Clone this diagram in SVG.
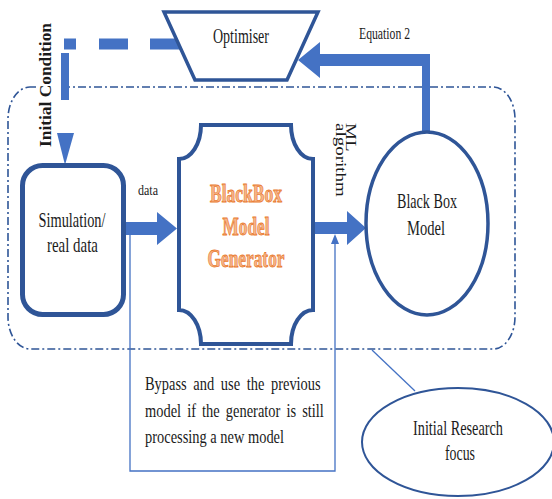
<svg xmlns="http://www.w3.org/2000/svg" width="552" height="499" viewBox="0 0 552 499">
<style>
.shape{fill:#fff;stroke:#2F5597}
.arrow{fill:#4472C4;stroke:none}
.thin{fill:none;stroke:#4472C4;stroke-width:1.3}
.t{font-family:"Liberation Serif","Times New Roman",serif;fill:#1b1b1b;text-anchor:middle}
.gen{font-family:"Liberation Serif","Times New Roman",serif;font-weight:bold;fill:#F6B58A;stroke:#E97A2E;stroke-width:0.8;text-anchor:middle}
</style>
<rect width="552" height="499" fill="#fff"/>

<g id="research-boundary">
<rect x="8" y="87" width="507" height="262" rx="22" ry="32" fill="none" stroke="#2F5597" stroke-width="1.6" stroke-dasharray="8 3 2 3"/>
</g>

<g id="initial-condition-label">
<rect x="36" y="18" width="24" height="134" fill="#fff"/>
<text class="t" transform="translate(51,85) rotate(-90)" font-size="17" font-weight="bold" fill="#333" textLength="124" lengthAdjust="spacingAndGlyphs">Initial Condition</text>
</g>

<g id="connectors">
<rect class="arrow" x="150" y="38.5" width="31" height="11"/>
<rect class="arrow" x="99" y="38.5" width="29" height="11"/>
<rect class="arrow" x="64" y="38.5" width="12" height="11"/>
<rect class="arrow" x="61" y="53" width="8" height="47"/>
<polygon class="arrow" points="57,133 74,133 65,165"/>
<polygon class="arrow" points="126,222 157,222 157,212 177,228.5 157,245 157,235 126,235"/>
<polygon class="arrow" points="315,222 347,222 347,211 366,228 347,245 347,234 315,234"/>
<polygon class="arrow" points="422,133 430,133 430,54 320,54 320,42 298,60 320,78 320,66 422,66"/>
<polyline class="thin" points="130,235 130,471 335,471 335,242"/>
<polygon class="arrow" points="331,244 339,244 335,234"/>
<line class="thin" x1="372" y1="350" x2="415" y2="391"/>
<text class="t" x="148" y="195" font-size="14" textLength="20" lengthAdjust="spacingAndGlyphs">data</text>
<text class="t" x="384.5" y="39" font-size="16.5" textLength="51" lengthAdjust="spacingAndGlyphs">Equation 2</text>
<g transform="translate(346,123) scale(0.72,1) rotate(90)">
<text class="t" style="text-anchor:start" x="0" y="0" font-size="19">ML</text>
<text class="t" style="text-anchor:start" x="0" y="14.5" font-size="19">algorithm</text>
</g>
</g>

<g id="optimiser">
<polygon class="shape" stroke-width="3.5" points="164,12 318,12 287,80 195,80"/>
<text class="t" x="241" y="43" font-size="20" textLength="56" lengthAdjust="spacingAndGlyphs">Optimiser</text>
</g>

<g id="simulation">
<rect class="shape" x="22.5" y="165.5" width="101" height="149" rx="20" stroke-width="5"/>
<text class="t" x="72" y="227" font-size="21" textLength="67" lengthAdjust="spacingAndGlyphs">Simulation/</text>
<text class="t" x="72.5" y="252" font-size="21" textLength="51" lengthAdjust="spacingAndGlyphs">real data</text>
</g>

<g id="generator">
<path class="shape" stroke-width="4" d="M201 125 H291 A22 34 0 0 0 313 159 V310 A22 34 0 0 0 291 344 H201 A22 34 0 0 0 179 310 V159 A22 34 0 0 0 201 125 Z"/>
<text class="gen" x="246" y="202" font-size="25" textLength="72" lengthAdjust="spacingAndGlyphs">BlackBox</text>
<text class="gen" x="246" y="235" font-size="25" textLength="47" lengthAdjust="spacingAndGlyphs">Model</text>
<text class="gen" x="246" y="267" font-size="25" textLength="77" lengthAdjust="spacingAndGlyphs">Generator</text>
</g>

<g id="black-box-model">
<ellipse class="shape" cx="427" cy="223.5" rx="61" ry="91.5" stroke-width="3.5"/>
<text class="t" x="427" y="208" font-size="21" textLength="60" lengthAdjust="spacingAndGlyphs">Black Box</text>
<text class="t" x="426" y="235" font-size="21" textLength="38" lengthAdjust="spacingAndGlyphs">Model</text>
</g>

<g id="bypass-note">
<text class="t" style="text-anchor:start" transform="translate(145,390) scale(0.76,1)" font-size="19" word-spacing="4">Bypass and use the previous</text>
<text class="t" style="text-anchor:start" transform="translate(145,417) scale(0.76,1)" font-size="19" word-spacing="3.3">model if the generator is still</text>
<text class="t" style="text-anchor:start" transform="translate(145,443) scale(0.76,1)" font-size="19">processing a new model</text>
</g>

<g id="initial-research-focus">
<ellipse class="shape" cx="458" cy="442" rx="96" ry="54" stroke-width="2"/>
<text class="t" x="458" y="435" font-size="21" textLength="90" lengthAdjust="spacingAndGlyphs">Initial Research</text>
<text class="t" x="460" y="460" font-size="21" textLength="30" lengthAdjust="spacingAndGlyphs">focus</text>
</g>
</svg>
